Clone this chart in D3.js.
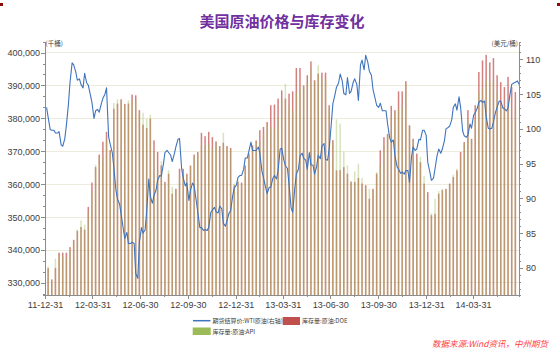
<!DOCTYPE html>
<html>
<head>
<meta charset="utf-8">
<script src="https://cdn.jsdelivr.net/npm/d3@7"></script>
<style>
    body { margin: 0; background: #fff; }
    svg { display: block; font-family: "Noto Sans CJK SC", sans-serif; }
    .axis path, .axis line { stroke: #8c8c8c; shape-rendering: crispEdges; }
    .axis text { fill: #404040; font-family: "Liberation Sans", Arial, sans-serif; font-size: 9px; }
    .grid line { stroke: #ecebdc; shape-rendering: crispEdges; }
</style>
</head>
<body>
<div id="chart"></div>
<script>
// weekly crude inventories (thousand barrels), Fridays from 2012-01-06 to 2014-06-20
let doeStock = [
    334500, 331100, 334600, 339200, 339200, 339200, 340900, 343100, 345800, 347000,
    346200, 353100, 360500, 365200, 369000, 372900, 375900, 370400, 382900, 384500,
    385800, 384400, 384500, 387200, 387000, 382500, 378100, 377100, 379900, 373300,
    369800, 365700, 360700, 363200, 357100, 358600, 364700, 364700, 363200, 365700,
    369000, 369800, 375600, 374600, 375900, 374300, 373000, 371600, 372600, 371600,
    371000, 359700, 360700, 360500, 365700, 369300, 371800, 373300, 376400, 377400,
    378900, 384000, 384200, 386000, 388500, 386000, 387500, 388200, 395300, 395300,
    390000, 393100, 397300, 391600, 393600, 393900, 393900, 384000, 373400, 364200,
    364300, 365200, 363200, 360700, 360700, 361900, 360200, 359700, 355600, 358600,
    363200, 370300, 374300, 375300, 383800, 382500, 388200, 388200, 391300, 377900,
    373800, 369300, 366700, 360200, 357600, 350600, 351000, 357100, 358200, 358600,
    360200, 362200, 364200, 369800, 372800, 382500, 373800, 384000, 394100, 397600,
    399300, 397000, 398300, 393100, 391000, 389500, 392600, 389500, 388000
];
let apiStock = [
    335000, 329800, 337400, 339000, 338200, 337600, 340000, 342000, 346300, 349000,
    347700, 351400, 358000, 365900, 368700, 368300, 373600, 370000, 384700, 385800,
    385500, 384000, 385500, 385000, 385500, 381500, 381700, 379900, 381100, 369800,
    364200, 367000, 360300, 364200, 359200, 358300, 362700, 363700, 362800, 365400,
    368600, 369300, 371800, 371600, 372300, 371000, 372700, 371300, 375600, 371300,
    370600, 360200, 361200, 360100, 365400, 369000, 371500, 373000, 372800, 375300,
    378500, 377400, 376900, 380400, 385800, 390500, 384000, 382500, 388000, 389000,
    389700, 390800, 395100, 391200, 396100, 392000, 391900, 382900, 373000, 379700,
    378400, 369900, 365700, 361000, 363900, 366200, 361900, 359300, 358600, 358300,
    363700, 365900, 371800, 375000, 380700, 382100, 382900, 383500, 390500, 377500,
    373500, 367800, 368300, 362500, 354800, 351200, 355600, 357900, 358600, 358300,
    359800, 362900, 364700, 368300, 372500, 379400, 373500, 379400, 388000, 389000,
    392000, 391000, 391300, 388500, 384000, 382900, 385000, 379400, 382900
];

// WTI settlement, two readings a week (Tue, Fri) from 2012-01-03 to 2014-06-27
let wtiPrice = [
    103.1, 101.7, 99.9, 99.8, 99.8, 99.4, 99.4, 99.6, 97.7, 97.5,
    98.6, 100.5, 103.6, 106.7, 109.5, 109.2, 108.2, 107.0, 107.2, 106.4,
    105.9, 108.0, 106.6, 106.3, 104.9, 103.8, 101.5, 102.6, 102.8, 102.4,
    103.6, 104.4, 105.0, 105.9, 98.9, 97.8, 96.6, 94.5, 91.2, 89.9,
    89.2, 87.7, 85.7, 84.2, 85.1, 83.5, 83.5, 83.7, 83.5, 79.2,
    78.5, 83.7, 85.8, 85.0, 85.5, 88.1, 92.8, 90.3, 89.3, 90.4,
    91.2, 92.6, 93.3, 93.2, 94.9, 96.6, 96.9, 96.6, 96.2, 95.3,
    96.4, 97.4, 98.5, 98.6, 94.3, 93.0, 91.8, 92.2, 89.7, 91.2,
    92.2, 91.8, 89.7, 88.0, 85.8, 85.8, 85.4, 85.5, 85.4, 85.8,
    88.0, 88.3, 88.7, 88.1, 87.9, 88.9, 88.5, 86.4, 86.0, 86.8,
    87.9, 88.2, 90.4, 91.5, 91.9, 93.0, 93.3, 93.3, 94.2, 95.8,
    95.8, 96.8, 98.1, 96.9, 96.9, 96.9, 97.4, 96.5, 93.9, 93.0,
    91.6, 90.7, 91.6, 91.6, 92.9, 93.3, 92.8, 94.0, 97.1, 97.2,
    95.5, 94.7, 94.3, 92.0, 88.6, 88.0, 91.4, 93.5, 94.2, 96.1,
    96.5, 95.8, 95.5, 94.2, 96.6, 94.8, 94.8, 93.5, 94.6, 96.2,
    95.7, 97.5, 97.9, 95.6, 95.5, 97.1, 100.7, 103.6, 104.9, 106.0,
    106.6, 107.9, 106.9, 105.1, 104.9, 107.4, 105.1, 105.4, 106.7, 107.2,
    106.4, 104.1, 109.2, 109.9, 108.5, 110.6, 109.6, 108.3, 107.7, 105.7,
    104.4, 103.4, 103.1, 103.7, 102.6, 102.6, 102.6, 100.7, 98.7, 98.1,
    98.4, 96.2, 94.6, 94.2, 93.6, 93.8, 93.5, 94.0, 94.0, 92.3,
    96.1, 97.4, 96.9, 97.1, 98.5, 98.4, 99.8, 99.8, 99.1, 95.2,
    93.8, 92.6, 92.9, 94.3, 96.2, 97.1, 96.5, 97.1, 98.3, 100.0,
    100.2, 100.4, 101.3, 103.1, 103.6, 102.7, 104.6, 103.1, 99.7, 99.0,
    98.8, 99.1, 100.7, 100.1, 102.0, 102.3, 103.0, 103.8, 104.1, 103.8,
    104.0, 101.8, 100.1, 100.0, 100.1, 101.0, 102.4, 103.1, 104.0, 104.0,
    103.0, 102.9, 102.6, 103.0, 105.1, 106.4, 106.6, 106.7, 106.9, 106.4
];

let quarterTicks = ["2011-12-31", "2012-03-31", "2012-06-30", "2012-09-30", "2012-12-31",
    "2013-03-31", "2013-06-30", "2013-09-30", "2013-12-31", "2014-03-31"];
let leftTicks = [330000, 340000, 350000, 360000, 370000, 380000, 390000, 400000];
let rightTicks = [80, 85, 90, 95, 100, 105, 110];

let seriesNames = ["期货结算价:WTI原油(右轴)", "库存量:原油:DOE", "库存量:原油:API"];
let colors = {wti: "#3f74be", doe: "#c0504d", api: "#9bbb59"};

class ComboVis {
    constructor(parentElement) {
        this.parentElement = parentElement;
        this.initVis();
    }

    initVis() {
        let vis = this;
        let parse = d3.timeParse("%Y-%m-%d");

        vis.margin = {top: 42, right: 41, bottom: 58, left: 45};
        vis.width = 560 - vis.margin.left - vis.margin.right;
        vis.height = 353 - vis.margin.top - vis.margin.bottom;

        vis.root = d3.select("#" + vis.parentElement).append("svg")
            .attr("width", 560)
            .attr("height", 353);

        vis.svg = vis.root.append("g")
            .attr("transform", `translate(${vis.margin.left}, ${vis.margin.top})`);

        // scales
        vis.x = d3.scaleTime()
            .domain([parse("2011-12-31"), parse("2014-06-27")])
            .range([0, vis.width]);
        vis.yLeft = d3.scaleLinear()
            .domain([326350, 403200])
            .range([vis.height, 0]);
        vis.yRight = d3.scaleLinear()
            .domain([76.1, 112.5])
            .range([vis.height, 0]);

        vis.quarterDates = quarterTicks.map(parse);

        // dates
        vis.fridays = d3.timeFriday.range(parse("2012-01-06"), parse("2014-06-28"));
        vis.wtiDates = [];
        vis.fridays.forEach(function(f) {
            vis.wtiDates.push(d3.timeDay.offset(f, -3));
            vis.wtiDates.push(f);
        });

        vis.wrangleData();
    }

    wrangleData() {
        let vis = this;

        vis.stockData = doeStock.map(function(d, i) {
            return {date: vis.fridays[i], doe: d, api: apiStock[i]};
        });
        vis.wtiData = wtiPrice.map(function(d, i) {
            return {date: vis.wtiDates[i], price: d};
        });

        vis.updateVis();
    }

    updateVis() {
        let vis = this;

        // gridlines
        vis.svg.append("g")
            .attr("class", "grid")
            .selectAll("line")
            .data(leftTicks)
            .enter().append("line")
            .attr("x1", 0)
            .attr("x2", vis.width)
            .attr("y1", d => vis.yLeft(d))
            .attr("y2", d => vis.yLeft(d));

        // bars: DOE underneath, API drawn over it half see-through
        let bw = 1.5;
        let bars = vis.svg.append("g").attr("class", "bars");
        bars.selectAll(".doe")
            .data(vis.stockData)
            .enter().append("rect")
            .attr("class", "doe")
            .attr("x", d => vis.x(d.date) - bw / 2)
            .attr("width", bw)
            .attr("y", d => vis.yLeft(d.doe))
            .attr("height", d => vis.height - vis.yLeft(d.doe))
            .style("fill", colors.doe)
            .style("opacity", 0.72);
        bars.selectAll(".api")
            .data(vis.stockData)
            .enter().append("rect")
            .attr("class", "api")
            .attr("x", d => vis.x(d.date) - bw / 2)
            .attr("width", bw)
            .attr("y", d => vis.yLeft(d.api))
            .attr("height", d => vis.height - vis.yLeft(d.api))
            .style("fill", colors.api)
            .style("opacity", 0.4);

        // wti line
        let line = d3.line()
            .x(d => vis.x(d.date))
            .y(d => vis.yRight(d.price));
        vis.svg.append("path")
            .datum(vis.wtiData)
            .attr("fill", "none")
            .attr("stroke", colors.wti)
            .attr("stroke-width", 1.1)
            .attr("stroke-linejoin", "round")
            .attr("d", line);

        // minor ticks
        let leftMinor = [];
        leftTicks.forEach(function(t) { leftMinor.push(t - 6667, t - 3333); });
        leftMinor.push(400000 + 3333);
        let rightMinor = d3.range(77, 113).filter(v => v % 5 !== 0);
        let xMinor = [];
        for (let i = 0; i < vis.quarterDates.length; i++) {
            let a = vis.quarterDates[i];
            let b = i < vis.quarterDates.length - 1 ? vis.quarterDates[i + 1] : d3.timeMonth.offset(a, 3);
            xMinor.push(new Date((a.getTime() + b.getTime()) / 2));
        }

        vis.svg.append("g")
            .attr("class", "axis")
            .call(d3.axisLeft(vis.yLeft).tickValues(leftMinor.filter(v => v > 326350 && v < 403200)).tickSize(2).tickFormat(""));
        vis.svg.append("g")
            .attr("class", "axis")
            .attr("transform", `translate(${vis.width}, 0)`)
            .call(d3.axisRight(vis.yRight).tickValues(rightMinor).tickSize(2).tickFormat(""));
        vis.svg.append("g")
            .attr("class", "axis")
            .attr("transform", `translate(0, ${vis.height})`)
            .call(d3.axisBottom(vis.x).tickValues(xMinor).tickSize(2).tickFormat(""));

        // main axes
        vis.svg.append("g")
            .attr("class", "axis y-axis")
            .call(d3.axisLeft(vis.yLeft).tickValues(leftTicks).tickSize(4).tickPadding(1).tickSizeOuter(0));
        vis.svg.append("g")
            .attr("class", "axis y2-axis")
            .attr("transform", `translate(${vis.width}, 0)`)
            .call(d3.axisRight(vis.yRight).tickValues(rightTicks).tickSize(4).tickPadding(3).tickSizeOuter(0));
        vis.svg.append("g")
            .attr("class", "axis x-axis")
            .attr("transform", `translate(0, ${vis.height})`)
            .call(d3.axisBottom(vis.x).tickValues(vis.quarterDates)
                .tickFormat(d3.timeFormat("%y-%m-%d")).tickSize(4).tickPadding(3).tickSizeOuter(0));

        // unit labels
        vis.svg.append("text")
            .attr("x", 0.5)
            .attr("y", 3.5)
            .style("font-size", "6.5px")
            .style("fill", "#404040")
            .text("(千桶)");
        vis.svg.append("text")
            .attr("x", vis.width - 1)
            .attr("y", 3.5)
            .attr("text-anchor", "end")
            .style("font-size", "6.5px")
            .style("fill", "#404040")
            .text("(美元/桶)");

        // title
        vis.root.append("text")
            .attr("x", 282)
            .attr("y", 27)
            .attr("text-anchor", "middle")
            .style("font-size", "15px")
            .style("font-weight", "bold")
            .style("fill", "#7030a0")
            .text("美国原油价格与库存变化");

        // legend
        let legend = vis.root.append("g").attr("class", "legend").style("font-size", "6px").style("fill", "#404040");
        legend.append("line")
            .attr("x1", 193).attr("x2", 210.5).attr("y1", 320.7).attr("y2", 320.7)
            .attr("stroke", colors.wti).attr("stroke-width", 1.5);
        legend.append("text").attr("x", 212.5).attr("y", 322.9).text(seriesNames[0]);
        legend.append("rect")
            .attr("x", 282.7).attr("y", 317).attr("width", 17.3).attr("height", 8)
            .style("fill", colors.doe);
        legend.append("text").attr("x", 302).attr("y", 323.2).text(seriesNames[1]);
        legend.append("rect")
            .attr("x", 192.7).attr("y", 327.5).attr("width", 18).attr("height", 7.5)
            .style("fill", colors.api);
        legend.append("text").attr("x", 212.5).attr("y", 333.5).text(seriesNames[2]);

        // source
        vis.root.append("text")
            .attr("x", 548)
            .attr("y", 346.5)
            .attr("text-anchor", "end")
            .style("font-size", "8.5px")
            .style("font-style", "italic")
            .style("fill", "#ff3b3b")
            .text("数据来源:Wind资讯，中州期货");

        // corner marks
        vis.root.append("rect").attr("x", 0).attr("y", 3).attr("width", 3).attr("height", 3).style("fill", "#8b0a0a");
        vis.root.append("rect").attr("x", 557).attr("y", 3).attr("width", 3).attr("height", 3).style("fill", "#8b0a0a");
    }
}

new ComboVis("chart");
</script>
</body>
</html>
